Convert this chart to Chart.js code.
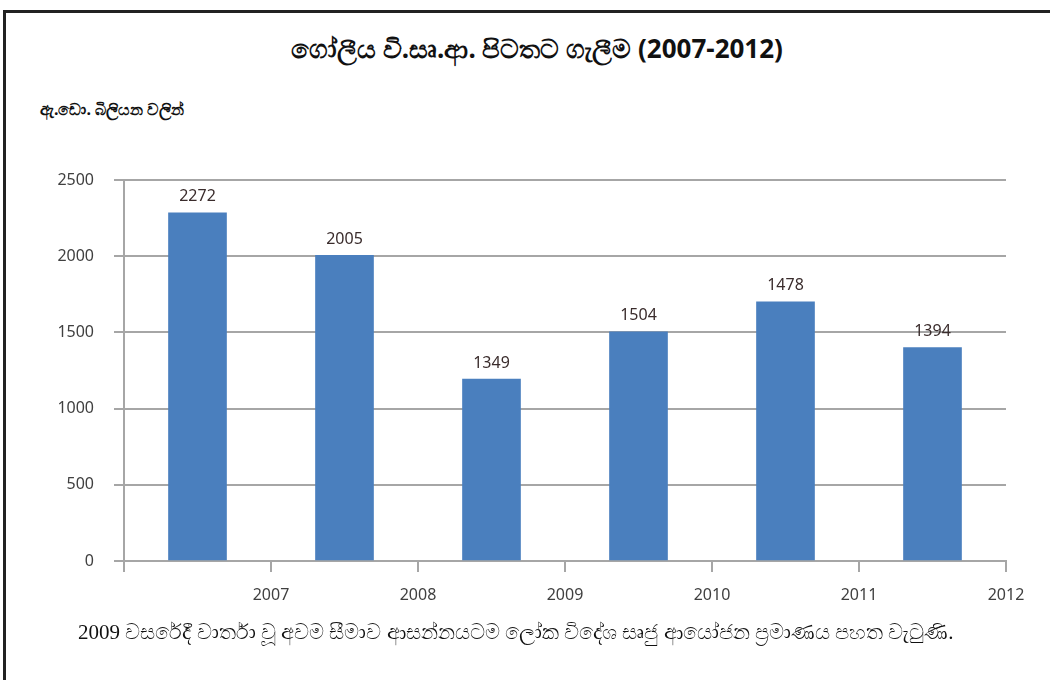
<!DOCTYPE html>
<html>
<head>
<meta charset="utf-8">
<script src="https://cdn.jsdelivr.net/npm/chart.js@4"></script>
<style>
  body { margin: 0; background: #fff; }
  #wrap { position: relative; width: 1050px; height: 680px; overflow: hidden; }
  #frame { position: absolute; left: 3px; top: 10px; width: 1060px; height: 700px;
           border-top: 3px solid #222; border-left: 3px solid #222; }
  #title { position: absolute; left: 0; width: 1074px; top: 30px; text-align: center;
           font: bold 26px "Noto Sans", "DejaVu Sans", sans-serif; color: #111; }
  #unit { position: absolute; left: 40px; top: 98px;
          font: bold 16px "Noto Sans", "DejaVu Sans", sans-serif; color: #111; }
  #note { position: absolute; left: 78px; top: 620px;
          font: 21px "Liberation Serif", "DejaVu Serif", serif; color: #111; }
  canvas { position: absolute; left: 0; top: 0; }
</style>
</head>
<body>
<div id="wrap">
  <div id="frame"></div>
  <div id="title">ගෝලීය වි.සෘ.ආ. පිටතට ගැලීම (2007-2012)</div>
  <div id="unit">ඇ.ඩො. බිලියන වලින්</div>
  <canvas id="chart" width="1050" height="680"></canvas>
  <div id="note">2009 වසරේදී වාර්තා වූ අවම සීමාව ආසන්නයටම ලෝක විදේශ සෘජු ආයෝජන ප්‍රමාණය පහත වැටුණි.</div>
</div>
<script>
// years shown under the tick marks
const years = ['2007', '2008', '2009', '2010', '2011', '2012'];
// bar heights as drawn in the picture
const barValues = [2285, 2005, 1194, 1504, 1700, 1400];
// numbers printed above the bars
const valueLabels = ['2272', '2005', '1349', '1504', '1478', '1394'];
const yTicks = [0, 500, 1000, 1500, 2000, 2500];

const grey = '#a6a6a6';

// write the value text above each bar
const barText = {
  id: 'barText',
  afterDatasetsDraw(chart) {
    const ctx = chart.ctx;
    const meta = chart.getDatasetMeta(0);
    ctx.save();
    ctx.font = '16px "Noto Sans", sans-serif';
    ctx.fillStyle = '#3a2c2c';
    ctx.textAlign = 'center';
    ctx.textBaseline = 'middle';
    meta.data.forEach((bar, i) => {
      ctx.fillText(valueLabels[i], bar.x, bar.y - 16);
    });
    ctx.restore();
  }
};

new Chart(document.getElementById('chart'), {
  type: 'bar',
  data: {
    datasets: [{
      data: barValues.map((v, i) => ({ x: i + 0.5, y: v })),
      backgroundColor: '#4a7fbe',
      barThickness: 58
    }]
  },
  options: {
    responsive: false,
    animation: false,
    layout: { padding: { top: 180, right: 44, bottom: 69, left: 0 } },
    plugins: { legend: { display: false }, tooltip: { enabled: false } },
    scales: {
      x: {
        type: 'linear',
        min: 0,
        max: 6,
        offset: false,
        border: { color: grey, width: 2 },
        grid: { offset: false, drawOnChartArea: false, drawTicks: true, tickLength: 11, color: grey, lineWidth: 2 },
        ticks: {
          stepSize: 1,
          padding: 14,
          color: '#404040',
          font: { family: 'Noto Sans', size: 16 },
          callback: v => (v >= 1 ? years[v - 1] : '')
        },
        afterFit: s => { s.height = 50; }
      },
      y: {
        min: 0,
        max: 2500,
        border: { color: grey, width: 2 },
        grid: { color: grey, lineWidth: 2, tickLength: 10 },
        afterBuildTicks: s => { s.ticks = yTicks.map(v => ({ value: v })); },
        ticks: {
          padding: 20,
          color: '#404040',
          font: { family: 'Noto Sans', size: 16 },
          callback: v => String(v)
        },
        afterFit: s => { s.width = 124; }
      }
    }
  },
  plugins: [barText]
});
</script>
</body>
</html>
